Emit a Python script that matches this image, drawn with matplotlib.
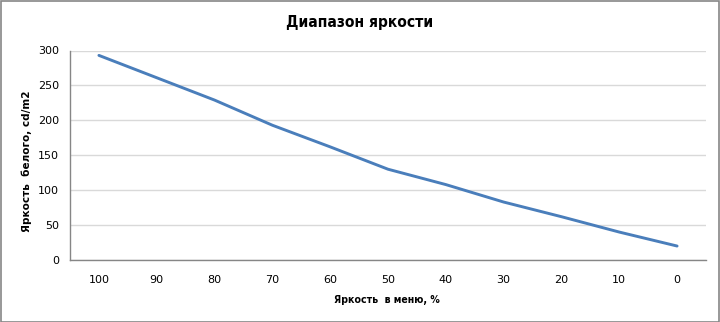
import matplotlib
matplotlib.use('Agg')
import matplotlib.pyplot as plt
from matplotlib.patches import Rectangle

# ── data ──────────────────────────────────────────────────────────────────────

menu_levels = ['100', '90', '80', '70', '60', '50', '40', '30', '20', '10', '0']
white_lum = [293, 261, 229, 193, 162, 130, 108, 83, 62, 40, 20]

title = 'Диапазон яркости'
xlabel = 'Яркость  в меню, %'
ylabel = 'Яркость  белого, cd/m2'

# ── figure ────────────────────────────────────────────────────────────────────

W, H = 720, 322
fig = plt.figure(figsize=(W / 100, H / 100), dpi=100)
ax = fig.add_axes([70 / W, (H - 260) / H, (706 - 70) / W, (260 - 50.5) / H])

x = range(len(menu_levels))
ax.plot(x, white_lum, color='#4a7ebb', lw=2.1, solid_capstyle='round')

ax.set_xlim(-0.5, len(menu_levels) - 0.5)
ax.set_ylim(0, 300)
ax.set_yticks(range(0, 301, 50))
ax.set_xticks(list(x))
ax.set_xticklabels(menu_levels)

ax.grid(axis='y', color='#d9d9d9', lw=1)
ax.set_axisbelow(True)
for side in ('top', 'right'):
    ax.spines[side].set_visible(False)
for side in ('left', 'bottom'):
    ax.spines[side].set_color('#868686')
    ax.spines[side].set_linewidth(1)

ax.tick_params(length=0, labelsize=8, colors='black')
ax.tick_params(axis='y', pad=8)
ax.tick_params(axis='x', pad=11)

# narrow bold face for title / x label, wider one for the y label
narrow = dict(family='DejaVu Sans', stretch='condensed', weight='bold')
fig.text(360 / W, 1 - 23 / H, title, ha='center', va='center', fontsize=11.2, **narrow)
fig.text(387 / W, 1 - 300 / H, xlabel, ha='center', va='center', fontsize=7.6, **narrow)
fig.text(27 / W, 1 - 161 / H, ylabel, ha='center', va='center', rotation=90,
         fontsize=7.5, family='DejaVu Sans', weight='bold')

# grey frame around chart area
fig.patches.append(Rectangle((0.5 / W, 0.5 / H), 1 - 1.5 / W, 1 - 1.5 / H,
                             transform=fig.transFigure, fill=False,
                             edgecolor='#868686', lw=1.2))

fig.savefig('out.png', dpi=100)
